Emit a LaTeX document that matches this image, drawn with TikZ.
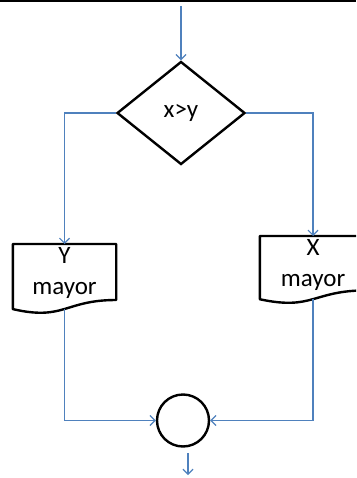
\documentclass[tikz,border=0pt]{standalone}
\usepackage{fontspec}
\setmainfont{Carlito}
\usetikzlibrary{shapes.geometric,arrows.meta,calc}

\definecolor{flowblue}{RGB}{79,129,189}

\tikzset{
  flow/.style={draw=flowblue, line width=1.2pt, -{Straight Barb[length=5pt,width=10pt]}},
  shapeline/.style={draw=black, line width=2.4pt},
  decision/.style={diamond, shapeline, minimum width=128pt, minimum height=103pt, inner sep=0pt},
  joint/.style={circle, shapeline, minimum size=52pt, inner sep=0pt},
  doctext/.style={anchor=north, align=center, inner xsep=0pt, inner ysep=3pt},
  docline/.style={shapeline, line join=round}
}

% document shape: straight top, wavy bottom
\newcommand{\docoutline}[2]{%
  \draw[docline] (#1.north west) -- (#1.north east)
    -- ($(#1.north east)+(0,0.8*#2)$)
    .. controls ($(#1.north)+(0,0.8*#2)$) and ($(#1.north)+(0,1.1*#2)$)
    .. ($(#1.north west)+(0,0.93*#2)$) -- cycle;
  \coordinate (#1 out) at ($(#1.north)+(0,0.93*#2)$);}

\begin{document}
\begin{tikzpicture}[x=1pt,y=-1pt,font=\fontsize{25}{31}\selectfont]
\useasboundingbox (0,0) rectangle (356,478);
\clip (0,0) rectangle (356,478);
\draw[line width=1.6pt] (0,0.8) -- (356,0.8);

\coordinate (start) at (181,6);
\node[decision] (cmp) at (181,113) {x>y};
\node[doctext, minimum width=103pt] (ymayor) at (64.5,244) {Y\\mayor};
\node[doctext, minimum width=106pt] (xmayor) at (313,236) {X\\mayor};
\docoutline{ymayor}{70}
\docoutline{xmayor}{68}
\node[joint] (join) at (183,420.5) {};
\coordinate (endtop) at (188,453);
\coordinate (endbot) at (188,475);

\draw[flow] (start) -- (cmp.north);
\draw[flow] (cmp.west) -| (ymayor.north);
\draw[flow] (cmp.east) -| (xmayor.north);
\draw[flow] (ymayor out) |- (join.west);
\draw[flow] (xmayor out) |- (join.east);
\draw[flow] (endtop) -- (endbot);
\end{tikzpicture}
\end{document}
